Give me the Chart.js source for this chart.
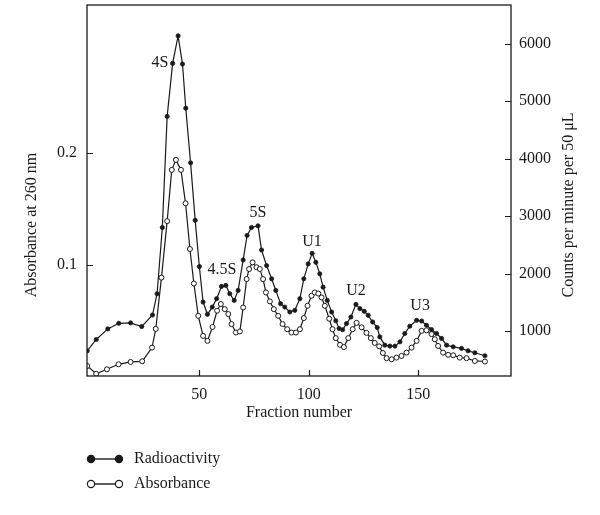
<!DOCTYPE html>
<html>
<head>
<meta charset="utf-8">
<script src="https://cdn.jsdelivr.net/npm/chart.js@4.4.1/dist/chart.umd.min.js"></script>
<style>
html,body{margin:0;padding:0;background:#fff;}
#wrap{width:600px;height:515px;}
</style>
</head>
<body>
<div id="wrap"><canvas id="c" width="600" height="515"></canvas></div>
<script>
// ---- data ----
const radioFraction = [-1.2,2.9,8.2,13.2,18.6,23.7,28.6,30.7,33.1,35.3,37.8,40.3,42.3,43.8,46.0,48.1,50.0,51.7,53.7,55.9,57.9,60.1,62.1,63.9,65.9,67.7,70.0,71.8,73.8,76.8,78.4,80.7,83.0,84.9,87.1,89.0,91.3,93.6,95.9,97.7,99.7,101.5,103.2,105.0,106.5,108.4,110.4,112.3,113.8,115.4,117.2,119.2,121.5,123.3,125.3,127.1,129.1,131.2,132.4,134.7,137.0,139.3,141.6,143.8,146.1,149.2,151.5,153.7,156.0,158.3,160.6,162.9,165.9,169.7,172.7,175.8,180.4];
const radioCounts = [659,856,1040,1138,1144,1081,1282,1652,2804,4737,5659,6138,5648,4880,3929,2929,2125,1507,1294,1420,1566,1779,1796,1652,1536,1709,2240,2666,2804,2834,2413,2142,1912,1709,1479,1420,1334,1363,1566,1912,2171,2355,2199,1998,1766,1536,1334,1182,1047,1026,1133,1247,1467,1393,1346,1277,1161,1064,901,758,741,741,815,960,1087,1190,1178,1104,1029,960,874,758,728,701,659,625,573];

const absFraction = [-1.2,2.9,7.8,13.1,18.6,23.9,28.4,30.1,32.7,35.3,37.4,39.3,41.6,43.7,45.7,47.5,49.5,51.7,53.7,56.0,58.1,59.8,61.6,63.2,64.7,66.7,68.5,70.0,71.6,72.7,74.3,76.1,77.6,79.1,80.4,82.2,84.0,86.0,88.0,90.1,92.1,94.1,95.9,97.7,99.4,101.2,102.7,104.3,105.8,107.3,109.3,110.8,112.3,114.2,116.0,118.0,120.0,121.8,124.1,126.3,128.3,130.1,132.1,133.8,135.5,137.8,140.0,142.3,144.6,146.9,149.2,151.5,153.7,156.0,157.5,159.0,161.3,163.6,165.9,168.9,172.0,175.8,180.4];
const absValue = [0.009,0.002,0.006,0.0105,0.0126,0.0132,0.0255,0.0423,0.0883,0.139,0.185,0.194,0.185,0.155,0.114,0.083,0.054,0.036,0.0315,0.044,0.0586,0.0646,0.060,0.0556,0.0466,0.039,0.040,0.0615,0.087,0.096,0.102,0.0976,0.096,0.087,0.075,0.067,0.060,0.054,0.0466,0.042,0.039,0.039,0.042,0.052,0.063,0.072,0.075,0.074,0.0705,0.063,0.0514,0.042,0.034,0.028,0.026,0.034,0.042,0.0477,0.0437,0.0387,0.034,0.0297,0.0266,0.0207,0.016,0.015,0.0165,0.018,0.021,0.0255,0.0315,0.0405,0.041,0.0376,0.033,0.027,0.021,0.019,0.0186,0.0165,0.016,0.0135,0.013];

const xTicks = [50,100,150];
const leftTicks = [0.1,0.2];
const rightTicks = [1000,2000,3000,4000,5000,6000];

const peakNames = ['4S','4.5S','5S','U1','U2','U3'];
const peakFraction = [32.0,60.3,76.8,101.4,121.5,150.8];
const peakCounts = [5670,2072,3058,2557,1709,1449];

const legendNames = ['Radioactivity','Absorbance'];

// ---- chart ----
const FONT = '"Liberation Serif", "DejaVu Serif", serif';
const INK = '#1a1a1a';

function noPad(s) { s.paddingTop = 0; s.paddingBottom = 0; s.paddingLeft = 0; s.paddingRight = 0; }

const extras = {
  id: 'extras',
  afterDraw(chart) {
    const ctx = chart.ctx;
    const a = chart.chartArea;
    const sx = chart.scales.x, sl = chart.scales.yL, sr = chart.scales.yR;
    ctx.save();
    // frame
    ctx.strokeStyle = INK;
    ctx.lineWidth = 1.3;
    ctx.strokeRect(a.left, a.top, a.right - a.left, a.bottom - a.top);
    // inner ticks
    ctx.lineWidth = 1.2;
    ctx.beginPath();
    xTicks.forEach(v => { const p = Math.round(sx.getPixelForValue(v)) + 0.5; ctx.moveTo(p, a.bottom); ctx.lineTo(p, a.bottom - 6); });
    leftTicks.forEach(v => { const p = Math.round(sl.getPixelForValue(v)) + 0.5; ctx.moveTo(a.left, p); ctx.lineTo(a.left + 6, p); });
    rightTicks.forEach(v => { const p = Math.round(sr.getPixelForValue(v)) + 0.5; ctx.moveTo(a.right, p); ctx.lineTo(a.right - 6, p); });
    ctx.stroke();
    // peak labels
    ctx.fillStyle = INK;
    ctx.font = '16px ' + FONT;
    ctx.textAlign = 'center';
    ctx.textBaseline = 'middle';
    peakNames.forEach((n, i) => {
      ctx.fillText(n, sx.getPixelForValue(peakFraction[i]), sr.getPixelForValue(peakCounts[i]));
    });
    // axis titles
    ctx.font = '16px ' + FONT;
    ctx.fillText('Fraction number', (a.left + a.right) / 2, 413);
    ctx.save();
    ctx.translate(32, 225);
    ctx.rotate(-Math.PI / 2);
    ctx.fillText('Absorbance at 260 nm', 0, 0);
    ctx.restore();
    ctx.save();
    ctx.translate(569, 205);
    ctx.rotate(-Math.PI / 2);
    ctx.fillText('Counts per minute per 50 \u03bcL', 0, 0);
    ctx.restore();
    // legend
    const rows = [459, 484];
    rows.forEach((y, i) => {
      ctx.beginPath();
      ctx.lineWidth = 1.4;
      ctx.moveTo(91, y); ctx.lineTo(119, y);
      ctx.stroke();
      [91, 119].forEach(x => {
        ctx.beginPath();
        ctx.arc(x, y, 3.6, 0, Math.PI * 2);
        ctx.fillStyle = i === 0 ? INK : '#fff';
        ctx.fill();
        ctx.lineWidth = 1.2;
        ctx.stroke();
      });
      ctx.fillStyle = INK;
      ctx.textAlign = 'left';
      ctx.font = '16px ' + FONT;
      ctx.fillText(legendNames[i], 134, y);
    });
    ctx.restore();
  }
};

new Chart(document.getElementById('c'), {
  type: 'line',
  data: {
    datasets: [
      {
        label: legendNames[0],
        data: radioFraction.map((f, i) => ({x: f, y: radioCounts[i]})),
        yAxisID: 'yR',
        borderColor: INK,
        borderWidth: 1.2,
        pointRadius: 2.1,
        pointBackgroundColor: INK,
        pointBorderColor: INK,
        pointBorderWidth: 0.8,
        tension: 0,
        fill: false
      },
      {
        label: legendNames[1],
        data: absFraction.map((f, i) => ({x: f, y: absValue[i]})),
        yAxisID: 'yL',
        borderColor: INK,
        borderWidth: 1.2,
        pointRadius: 2.5,
        pointBackgroundColor: '#fff',
        pointBorderColor: INK,
        pointBorderWidth: 1,
        tension: 0,
        fill: false
      }
    ]
  },
  options: {
    responsive: false,
    animation: false,
    layout: {padding: {top: 3, left: 0, right: 0, bottom: 0}},
    plugins: {legend: {display: false}, tooltip: {enabled: false}},
    scales: {
      x: {
        type: 'linear', position: 'bottom', min: -1.3, max: 192.3,
        grid: {display: false, drawTicks: false},
        border: {display: false},
        afterBuildTicks: s => { s.ticks = xTicks.map(v => ({value: v})); },
        afterFit: s => { s.height = 139; noPad(s); },
        ticks: {color: INK, font: {family: FONT, size: 16}, padding: 9, maxRotation: 0}
      },
      yL: {
        type: 'linear', position: 'left', min: 0, max: 0.333,
        grid: {display: false, drawTicks: false},
        border: {display: false},
        afterBuildTicks: s => { s.ticks = leftTicks.map(v => ({value: v})); },
        afterFit: s => { s.width = 87; noPad(s); },
        ticks: {color: INK, font: {family: FONT, size: 16}, padding: 10, callback: v => v.toFixed(1)}
      },
      yR: {
        type: 'linear', position: 'right', min: 221, max: 6675,
        grid: {display: false, drawTicks: false},
        border: {display: false},
        afterBuildTicks: s => { s.ticks = rightTicks.map(v => ({value: v})); },
        afterFit: s => { s.width = 89; noPad(s); },
        ticks: {color: INK, font: {family: FONT, size: 16}, padding: 8, callback: v => String(v)}
      }
    }
  },
  plugins: [extras]
});
</script>
</body>
</html>
